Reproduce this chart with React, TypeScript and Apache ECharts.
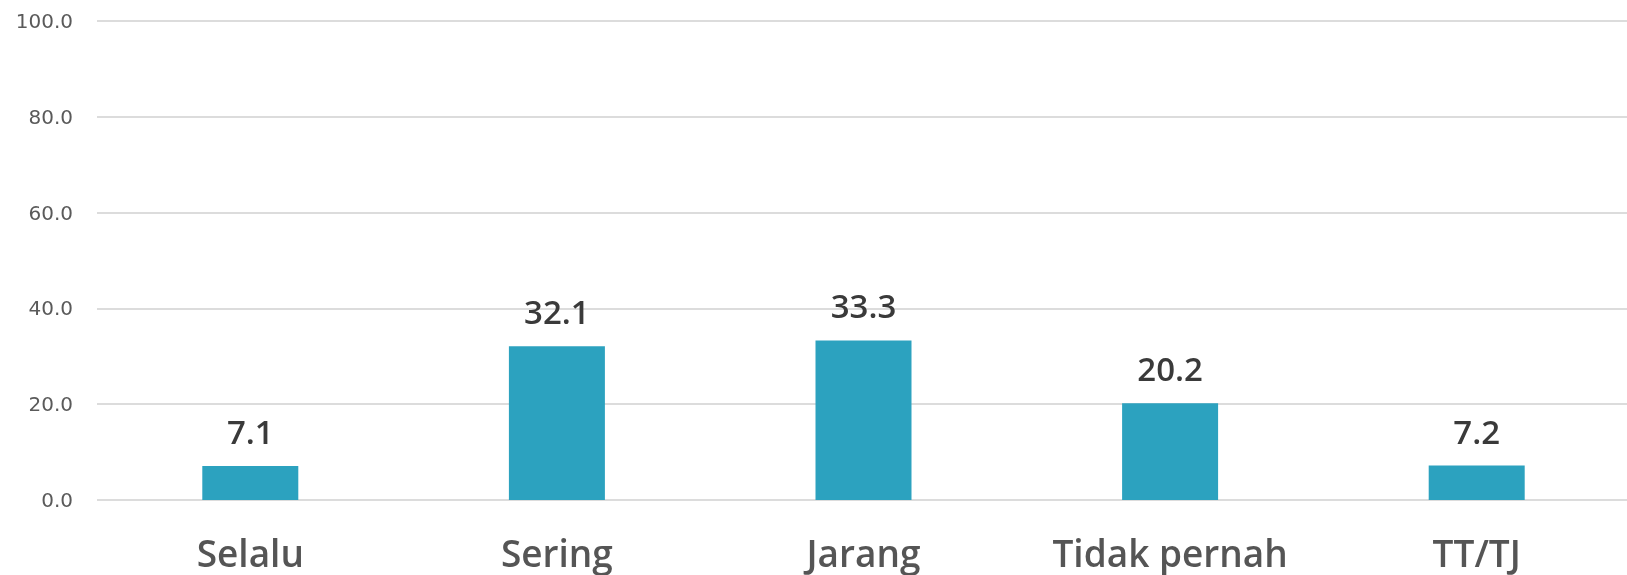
import React, { useEffect, useRef } from "react";
import * as echarts from "echarts";

const categories = ["Selalu", "Sering", "Jarang", "Tidak pernah", "TT/TJ"];
const values = [7.1, 32.1, 33.3, 20.2, 7.2];

export default function App() {
  const ref = useRef<HTMLDivElement>(null);
  useEffect(() => {
    if (!ref.current) return;
    const chart = echarts.init(ref.current, null, { renderer: "svg" });
    chart.setOption({
      animation: false,
      grid: { left: 97, top: 21, bottom: 75, width: 1533 },
      xAxis: {
        type: "category",
        data: categories,
        axisLine: { show: false },
        axisTick: { show: false },
        axisLabel: {
          interval: 0,
          margin: 34,
          fontSize: 37,
          fontWeight: 600,
          color: "#555555",
          fontFamily: "Open Sans",
        },
      },
      yAxis: {
        type: "value",
        min: 0,
        max: 100,
        interval: 20,
        axisLine: { show: false },
        axisTick: { show: false },
        splitLine: { lineStyle: { color: "#dcdcdc", width: 2 } },
        axisLabel: {
          margin: 24,
          fontSize: 20,
          color: "#5a5a5a",
          fontFamily: "DejaVu Sans",
          formatter: (v: number) => v.toFixed(1),
        },
      },
      series: [
        {
          type: "bar",
          data: values,
          barWidth: 96,
          itemStyle: { color: "#2ca2bf" },
          label: {
            show: true,
            position: "top",
            distance: 18,
            fontSize: 33,
            fontWeight: 600,
            color: "#3a3a3a",
            fontFamily: "Open Sans",
            formatter: (p: any) => p.value.toFixed(1),
          },
        },
      ],
    });
    return () => chart.dispose();
  }, []);
  return (
    <div
      style={{
        position: "fixed",
        left: 0,
        top: 0,
        width: 1627,
        height: 575,
        overflow: "hidden",
      }}
    >
      <div ref={ref} style={{ width: 1660, height: 575 }} />
    </div>
  );
}
